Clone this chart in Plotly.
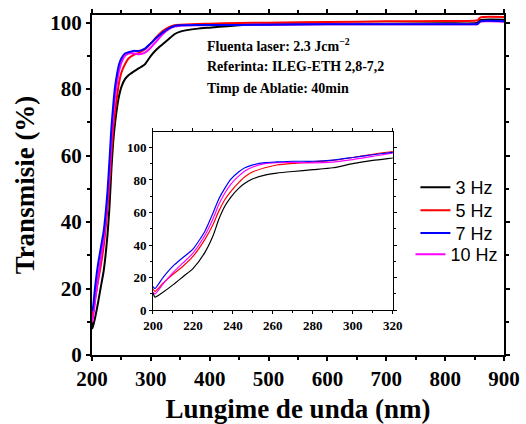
import plotly.graph_objects as go

# Wavelength grid (nm) shared by all spectra
wavelength = [200, 201, 205, 210, 215, 220, 226, 230, 233, 236, 239, 243, 246, 250,
              256, 262, 270, 280, 290, 300, 310, 320, 330, 340, 350, 380, 400, 450,
              500, 600, 700, 800, 850, 855, 860, 900]

# Transmission (%) for each pulse repetition rate
t_3hz = [11, 8, 11, 15.5, 20.5, 25.5, 35.5, 45.5, 56, 64, 69.5, 75, 78, 80.7,
         83, 84.2, 85.2, 86.3, 87.5, 90, 92, 93.5, 95, 96.5, 97.3, 98.2, 98.5, 99.2,
         99.5, 99.6, 99.7, 99.8, 99.8, 100.0, 100.8, 100.9]
t_5hz = [13, 11.5, 16.5, 22, 27, 33, 43.5, 52.5, 61, 68, 73, 78.5, 82, 85,
         87.5, 89.2, 90.2, 91, 92, 93.8, 95.8, 97.5, 98.6, 99.2, 99.4, 99.6, 99.7, 99.9,
         100.0, 100.2, 100.4, 100.5, 100.6, 100.7, 101.6, 101.7]
t_7hz = [14.5, 13.3, 20, 27, 32.3, 37.5, 48.5, 59.5, 68.5, 75, 80.5, 85, 87.5, 89.3,
         90.7, 91.1, 91.5, 91.5, 92.2, 93.8, 95.5, 97, 98.2, 99, 99.2, 99.3, 99.3, 99.3,
         99.4, 99.5, 99.5, 99.5, 99.5, 99.6, 100.4, 100.4]
t_10hz = [11, 10, 16, 23, 29, 35, 46, 56, 65, 72, 77.5, 82.5, 85.5, 88,
          90, 90.7, 90.8, 90.5, 91, 92.5, 94.5, 96.5, 98, 98.8, 99.1, 99.2, 99.3, 99.3,
          99.4, 99.5, 99.5, 99.5, 99.5, 99.6, 100.3, 100.3]

# (label, values, colour, legend id); drawn in this order so blue sits on top
series = [
    ("3 Hz", t_3hz, "#000000", "legend"),
    ("5 Hz", t_5hz, "#ff0000", "legend2"),
    ("10 Hz", t_10hz, "#ff00ff", "legend4"),
    ("7 Hz", t_7hz, "#0000ff", "legend3"),
]

main_x_ticks = [200, 300, 400, 500, 600, 700, 800, 900]
main_y_ticks = [0, 20, 40, 60, 80, 100]
inset_x_ticks = [200, 220, 240, 260, 280, 300, 320]
inset_y_ticks = [0, 20, 40, 60, 80, 100]

serif = "Liberation Serif"
sans = "Liberation Sans"

fig = go.Figure()

for name, vals, color, leg in series:
    fig.add_trace(go.Scatter(
        x=wavelength, y=vals, name=name, mode="lines",
        line=dict(color=color, width=2, shape="spline", smoothing=0.6),
        legend=leg, xaxis="x", yaxis="y"))

for name, vals, color, leg in series:
    fig.add_trace(go.Scatter(
        x=wavelength, y=vals, name=name, mode="lines", showlegend=False,
        line=dict(color=color, width=1.2, shape="spline", smoothing=0.6),
        xaxis="x2", yaxis="y2"))


def legend_box(x, y):
    return dict(x=x, y=y, xanchor="left", yanchor="top", bgcolor="rgba(0,0,0,0)",
                font=dict(family=sans, size=18, color="black"))


fig.update_layout(
    width=526, height=424,
    margin=dict(l=92, r=16, t=15, b=69),
    paper_bgcolor="white", plot_bgcolor="white",
    showlegend=True,
    legend=legend_box(0.785, 0.547),
    legend2=legend_box(0.785, 0.479),
    legend3=legend_box(0.785, 0.412),
    legend4=legend_box(0.773, 0.350),
    xaxis=dict(
        domain=[0, 1], range=[200, 900], tickvals=main_x_ticks, automargin=False,
        showline=True, linecolor="black", linewidth=2, mirror="ticks",
        ticks="outside", ticklen=4, tickwidth=2, tickcolor="black",
        minor=dict(ticks="outside", ticklen=3, tickwidth=2, dtick=50, tickcolor="black"),
        showgrid=False, zeroline=False,
        tickfont=dict(family=serif, size=21, color="black", weight="bold"),
        title=dict(text="<b>Lungime de unda (nm)</b>",
                   font=dict(family=serif, size=27, color="black"), standoff=12),
    ),
    yaxis=dict(
        domain=[0, 1], range=[0, 102.3], tickvals=main_y_ticks, automargin=False,
        showline=True, linecolor="black", linewidth=2, mirror="ticks",
        ticks="outside", ticklen=4, tickwidth=2, tickcolor="black",
        minor=dict(ticks="outside", ticklen=3, tickwidth=2, dtick=10, tickcolor="black"),
        showgrid=False, zeroline=False,
        tickfont=dict(family=serif, size=21, color="black", weight="bold"),
        title=dict(text="<b>Transmisie (%)</b>",
                   font=dict(family=serif, size=27, color="black"), standoff=8),
    ),
    xaxis2=dict(
        domain=[0.148, 0.730], anchor="y2", range=[200, 320], tickvals=inset_x_ticks,
        showline=True, linecolor="black", linewidth=1, mirror="ticks",
        ticks="outside", ticklen=3, tickwidth=1, tickcolor="black",
        minor=dict(ticks="outside", ticklen=2, dtick=10, tickcolor="black"),
        showgrid=False, zeroline=False,
        tickfont=dict(family=serif, size=13, color="black", weight="bold"),
    ),
    yaxis2=dict(
        domain=[0.132, 0.656], anchor="x2", range=[0, 109.5], tickvals=inset_y_ticks,
        showline=True, linecolor="black", linewidth=1, mirror="ticks",
        ticks="outside", ticklen=3, tickwidth=1, tickcolor="black",
        minor=dict(ticks="outside", ticklen=2, dtick=10, tickcolor="black"),
        showgrid=False, zeroline=False,
        tickfont=dict(family=serif, size=13, color="black", weight="bold"),
    ),
)

info_lines = [
    "Fluenta laser: 2.3 Jcm<sup>\u22122</sup>",
    "Referinta: ILEG-ETH 2,8-7,2",
    "Timp de Ablatie: 40min",
]
for i, txt in enumerate(info_lines):
    fig.add_annotation(
        text="<b>" + txt + "</b>", xref="paper", yref="paper",
        x=0.275, y=0.912 - i * 0.0635, xanchor="left", yanchor="middle", showarrow=False,
        font=dict(family=serif, size=14, color="black"))

fig.write_html("out.html")
